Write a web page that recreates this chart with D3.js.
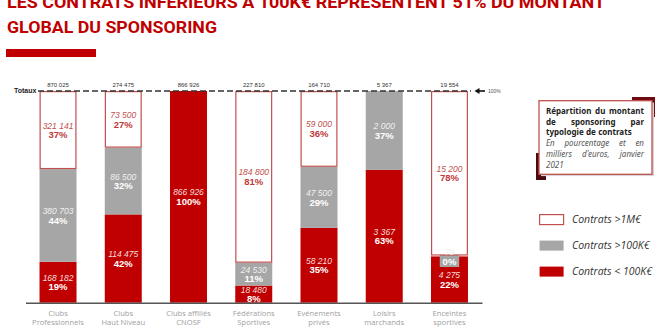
<!DOCTYPE html>
<html>
<head>
<meta charset="utf-8">
<script src="https://cdn.jsdelivr.net/npm/d3@7"></script>
<style>
body { margin: 0; background: #fff; }
svg text { font-family: "Liberation Sans", Arial, sans-serif; }
</style>
</head>
<body>
<script>
// values in thousands of euros, janvier 2021
var categories = ["Clubs|Professionnels", "Clubs|Haut Niveau", "Clubs affiliés|CNOSF", "Fédérations|Sportives", "Evénements|privés", "Loisirs|marchands", "Enceintes|sportives"];
var over1M    = [321141, 73500, 0, 184800, 59000, 0, 15200];
var over100K  = [380703, 86500, 0, 24530, 47500, 2000, 79];
var under100K = [168182, 114475, 866926, 18480, 58210, 3367, 4275];
var totals    = [870025, 274475, 866926, 227810, 164710, 5367, 19554];
var seriesKeys = ["low", "mid", "high"];
var legendKeys = ["high", "mid", "low"];
var legendLabels = ["Contrats >1M€", "Contrats >100K€", "Contrats < 100K€"];

var titleLines = ["LES CONTRATS INFÉRIEURS À 100K€ REPRÉSENTENT 51% DU MONTANT", "GLOBAL DU SPONSORING"];

function render() {
  var W = 660, H = 336;
  var RED = "#c00000", GREY = "#a6a6a6", EDGE = "#c0504d";
  var fill = {low: RED, mid: GREY, high: "#fff"};

  var svg = d3.select("body").append("svg")
      .attr("width", W)
      .attr("height", H);

  // title (first line is cut by the top edge, as in the source)
  svg.append("text").attr("x", 7).attr("y", 7.5)
      .attr("textLength", 598).attr("lengthAdjust", "spacingAndGlyphs")
      .style("font-family", "Roboto, sans-serif").style("font-weight", "bold")
      .style("font-size", "17px").attr("fill", RED).text(titleLines[0]);
  svg.append("text").attr("x", 7).attr("y", 32.7)
      .attr("textLength", 210).attr("lengthAdjust", "spacingAndGlyphs")
      .style("font-family", "Roboto, sans-serif").style("font-weight", "bold")
      .style("font-size", "17px").attr("fill", RED).text(titleLines[1]);
  svg.append("rect").attr("x", 6).attr("y", 49).attr("width", 90).attr("height", 8).attr("fill", RED);

  var rows = categories.map(function(c, i) {
    return {cat: c, low: under100K[i], mid: over100K[i], high: over1M[i], total: totals[i]};
  });

  var x = d3.scaleBand().domain(categories).range([25.5, 482])
      .paddingInner(0.433).paddingOuter(0.215);
  var y = d3.scaleLinear().domain([0, 1]).range([302.7, 91]);

  var stack = d3.stack().keys(seriesKeys).offset(d3.stackOffsetExpand);
  var layers = stack(rows);

  var fmt = d3.formatLocale({decimal: ",", thousands: " ", grouping: [3], currency: ["", "€"]}).format(",d");

  var bars = svg.append("g");
  var labels = svg.append("g");

  layers.forEach(function(layer) {
    var key = layer.key;
    layer.forEach(function(d) {
      var v = d.data[key];
      if (!v) return;
      var x0 = x(d.data.cat), bw = x.bandwidth();
      var y0 = y(d[1]), y1 = y(d[0]);
      var mid = (y0 + y1) / 2;
      var pct = Math.round(v / d.data.total * 100) + "%";
      var valCol = key == "high" ? EDGE : (key == "mid" ? "#f0f0f0" : "#f2dcdc");
      var pctCol = key == "high" ? "#c0393b" : "#fff";
      if (y1 - y0 < 4) {
        // tiny share: small callout box in the series colour
        bars.append("rect").attr("x", x0 + bw / 2 - 9.7).attr("y", mid - 9)
            .attr("width", 19.4).attr("height", 20).attr("fill", fill[key]);
        mid = mid + 1;
      } else {
        bars.append("rect")
            .attr("x", key == "high" ? x0 + 0.6 : x0)
            .attr("y", key == "high" ? y0 + 0.6 : y0)
            .attr("width", key == "high" ? bw - 1.2 : bw)
            .attr("height", key == "high" ? y1 - y0 - 1.2 : y1 - y0)
            .attr("fill", fill[key])
            .attr("stroke", key == "high" ? EDGE : "none")
            .attr("stroke-width", 1.2);
      }
      labels.append("text").attr("x", x0 + bw / 2).attr("y", mid - 1.5)
          .attr("text-anchor", "middle").style("font-size", "8.5px").style("font-style", "italic")
          .attr("fill", valCol).text(fmt(v));
      labels.append("text").attr("x", x0 + bw / 2).attr("y", mid + 8.2)
          .attr("text-anchor", "middle").style("font-size", "9.5px").style("font-weight", "bold")
          .attr("fill", pctCol).text(pct);
    });
  });

  // totals above bars
  svg.append("g").selectAll("text").data(rows).enter().append("text")
      .attr("x", function(d) { return x(d.cat) + x.bandwidth() / 2; })
      .attr("y", 87)
      .attr("text-anchor", "middle")
      .style("font-size", "6px").attr("fill", "#333")
      .text(function(d) { return fmt(d.total); });

  svg.append("text").attr("x", 14).attr("y", 92.5)
      .style("font-size", "7px").style("font-weight", "bold").attr("fill", "#222").text("Totaux");

  // 100% dashed line + arrow
  svg.append("line").attr("x1", 38).attr("x2", 471).attr("y1", y(1)).attr("y2", y(1))
      .attr("stroke", "#333").attr("stroke-width", 1.3).attr("stroke-dasharray", "6,3");
  svg.append("line").attr("x1", 478).attr("x2", 485).attr("y1", y(1)).attr("y2", y(1))
      .attr("stroke", "#111").attr("stroke-width", 1.6);
  svg.append("path").attr("d", "M474.5," + y(1) + "L479.5," + (y(1) - 3) + "L479.5," + (y(1) + 3) + "Z")
      .attr("fill", "#111");
  svg.append("text").attr("x", 488).attr("y", y(1) + 1.8)
      .style("font-size", "5px").attr("fill", "#555").text("100%");

  // category axis
  var ax = svg.append("g")
      .attr("transform", "translate(0," + y(0) + ")")
      .call(d3.axisBottom(x).tickSize(0).tickSizeOuter(0));
  ax.select(".domain").attr("stroke", "#555").attr("stroke-width", 1.5);
  ax.selectAll(".tick text").each(function(d) {
    var t = d3.select(this).text(null).attr("dy", null).attr("y", null)
        .style("font-family", "'Open Sans', sans-serif").style("font-size", "7.6px").attr("fill", "#a0a0a0");
    d.split("|").forEach(function(s, i) {
      t.append("tspan").attr("x", 0).attr("y", 12.9 + i * 9).text(s);
    });
  });

  // info box
  var info = svg.append("g");
  info.append("rect").attr("x", 632).attr("y", 97).attr("width", 23).attr("height", 20).attr("fill", "#6e0b10");
  info.append("rect").attr("x", 536).attr("y", 153).attr("width", 10).attr("height", 27).attr("fill", "#4a0a0e");
  info.append("rect").attr("x", 541).attr("y", 102.5).attr("width", 113).attr("height", 73.6).attr("fill", "#d4d4d4");
  info.append("rect").attr("x", 539).attr("y", 100.7).attr("width", 113).attr("height", 73.6)
      .attr("fill", "#fff").attr("stroke", EDGE).attr("stroke-width", 1.3);

  var infoLines = [
    {words: ["Répartition", "du", "montant"], bold: true, last: false},
    {words: ["de", "sponsoring", "par"], bold: true, last: false},
    {words: ["typologie", "de", "contrats"], bold: true, last: true},
    {words: ["En", "pourcentage", "et", "en"], bold: false, last: false},
    {words: ["milliers", "d'euros,", "janvier"], bold: false, last: false},
    {words: ["2021"], bold: false, last: true}
  ];
  var left = 546, right = 644;
  infoLines.forEach(function(l, i) {
    var by = 113.8 + i * 10.8;
    var ts = l.words.map(function(w) {
      return info.append("text").attr("y", by)
          .style("font-family", "'Noto Sans', sans-serif").style("font-size", "8px")
          .style("font-weight", l.bold ? "bold" : "normal")
          .style("font-style", l.bold ? "normal" : "italic")
          .attr("fill", l.bold ? "#222" : "#555").text(w);
    });
    var ws = ts.map(function(t) { return t.node().getComputedTextLength(); });
    // squeeze words a little when the line would not leave room for spaces
    var room = right - left - 3 * (ws.length - 1);
    var k = d3.sum(ws) > room ? room / d3.sum(ws) : 1;
    ws = ws.map(function(w, j) {
      if (k < 1) ts[j].attr("textLength", w * k).attr("lengthAdjust", "spacingAndGlyphs");
      return w * k;
    });
    var gap = (l.last || ws.length < 2) ? 2.3 : (right - left - d3.sum(ws)) / (ws.length - 1);
    var cx = left;
    ts.forEach(function(t, j) { t.attr("x", cx); cx += ws[j] + gap; });
  });

  // legend
  var lg = svg.append("g").selectAll("g").data(legendKeys).enter().append("g")
      .attr("transform", function(d, i) { return "translate(539," + (214 + i * 26) + ")"; });
  lg.append("rect").attr("x", 0.6).attr("y", 0.6).attr("width", 24).attr("height", 10)
      .attr("fill", function(d) { return fill[d]; })
      .attr("stroke", function(d) { return d == "high" ? EDGE : "none"; })
      .attr("stroke-width", 1.2);
  lg.append("text").attr("x", 33).attr("y", 9.2)
      .style("font-family", "'Open Sans', sans-serif").style("font-size", "10.5px").style("font-style", "italic")
      .attr("fill", "#333")
      .text(function(d, i) { return legendLabels[i]; })
      .each(function() {
        var w = this.getComputedTextLength();
        if (w > 80) d3.select(this).attr("textLength", 80).attr("lengthAdjust", "spacingAndGlyphs");
      });
}
render();
</script>
</body>
</html>
